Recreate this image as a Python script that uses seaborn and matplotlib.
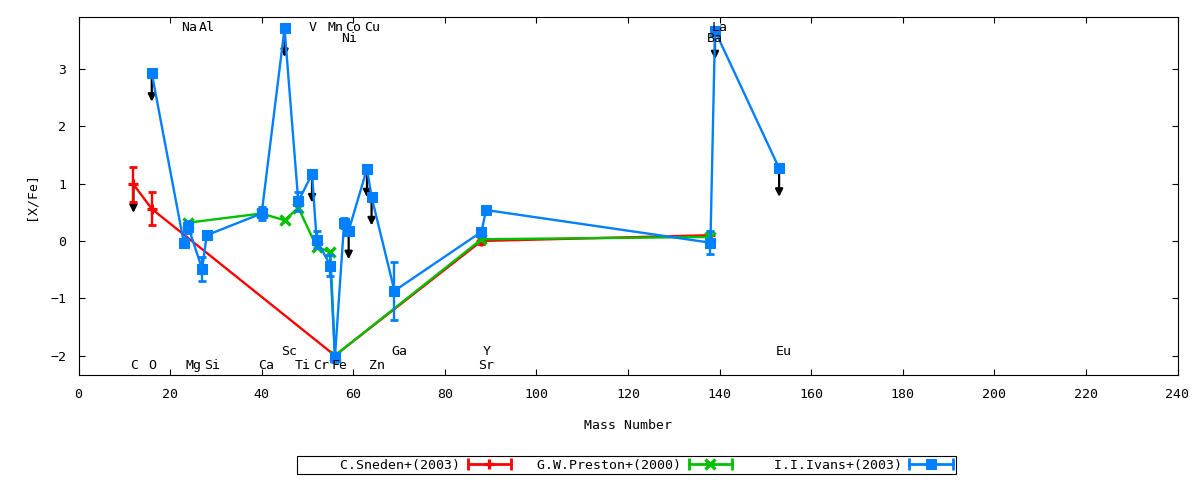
import matplotlib
matplotlib.use("Agg")
import matplotlib.pyplot as plt
import numpy as np
import pandas as pd
import seaborn as sns
from matplotlib.lines import Line2D
from matplotlib.legend_handler import HandlerLine2D, HandlerTuple

# ---------------- data ----------------
sneden_label = "C.Sneden+(2003)"
sneden_mass = [12, 16, 56, 88, 138]
sneden_val = [0.99, 0.56, -2.00, 0.00, 0.10]
sneden_err = [0.31, 0.29, 0.0, 0.06, 0.0]
sneden_ul = [True, False, False, False, False]

preston_label = "G.W.Preston+(2000)"
preston_mass = [24, 40, 45, 48, 52, 55, 56, 88, 138]
preston_val = [0.32, 0.48, 0.36, 0.58, -0.10, -0.20, -2.00, 0.03, 0.07]
preston_err = [0, 0, 0, 0, 0, 0, 0, 0, 0]
preston_ul = [False] * 9

ivans_label = "I.I.Ivans+(2003)"
ivans_mass = [16, 23, 24, 27, 28, 40, 45, 48, 51, 52, 55, 56, 58, 59, 63, 64,
              69, 88, 89, 138, 139, 153]
ivans_val = [2.93, -0.03, 0.24, -0.49, 0.10, 0.48, 3.71, 0.69, 1.17, 0.02,
             -0.43, -2.03, 0.31, 0.18, 1.26, 0.77, -0.87, 0.16, 0.54, -0.03,
             3.67, 1.27]
ivans_err = [0, 0, 0.10, 0.21, 0, 0.12, 0, 0.17, 0, 0.15, 0.18, 0.08, 0.09,
             0, 0, 0, 0.51, 0.05, 0, 0.20, 0, 0]
ivans_ul = [True, False, False, False, False, False, True, False, True, False,
            False, False, False, True, True, True, False, False, False, False,
            True, True]

elem_names = ["C", "O", "Na", "Mg", "Al", "Si", "Ca", "Sc", "Ti", "V", "Cr",
              "Mn", "Fe", "Co", "Ni", "Cu", "Zn", "Ga", "Sr", "Y", "Ba", "La",
              "Eu"]
elem_mass = [12, 16, 23, 24, 27, 28, 40, 45, 48, 51, 52, 55, 56, 59, 58, 63,
             64, 69, 88, 89, 138, 139, 153]
elem_row = [3, 3, 0, 3, 0, 3, 3, 2, 3, 0, 3, 0, 3, 0, 1, 0, 3, 2, 3, 2, 1, 0, 2]

x_ticks = list(range(0, 241, 20))
y_ticks = [-2, -1, 0, 1, 2, 3]
x_title = "Mass Number"
y_title = "[X/Fe]"

# ---------------- layout / style ----------------
RED, GREEN, BLUE = "#ff0000", "#00c000", "#0080ff"
FS = 9.5
LW = 1.7
ARROW_LEN = 0.5
ROW_Y = {0: 3.73, 1: 3.54, 2: -1.93, 3: -2.17}

sns.set_style("ticks")
plt.rcParams["font.family"] = ["DejaVu Sans Mono", "DejaVu Sans"]
plt.rcParams["axes.edgecolor"] = "black"
plt.rcParams["xtick.color"] = "black"
plt.rcParams["ytick.color"] = "black"
plt.rcParams["text.color"] = "black"
plt.rcParams["axes.labelcolor"] = "black"

fig = plt.figure(figsize=(12, 4.8), dpi=100)
ax = fig.add_axes([78.5 / 1200, 1 - 375 / 480, 1099 / 1200, 358 / 480])

series = [
    (sneden_label, sneden_mass, sneden_val, sneden_err, sneden_ul, RED,
     dict(marker="+", ms=7.5, mew=2.3), 2.0),
    (preston_label, preston_mass, preston_val, preston_err, preston_ul, GREEN,
     dict(marker="x", ms=6.5, mew=2.4), 2.1),
    (ivans_label, ivans_mass, ivans_val, ivans_err, ivans_ul, BLUE,
     dict(marker="s", ms=7, mew=0.8), 2.2),
]

handles, labels, hmap = [], [], {}
for label, m, v, e, ul, col, mk, z in series:
    df = pd.DataFrame({"mass": m, "val": v, "err": e, "ul": ul})
    # upper-limit arrows
    for _, r in df[df["ul"]].iterrows():
        ax.annotate("", xy=(r["mass"], r["val"] - ARROW_LEN),
                    xytext=(r["mass"], r["val"]),
                    arrowprops=dict(arrowstyle="-|>", color="black", lw=1.6,
                                    mutation_scale=11, shrinkA=0, shrinkB=0),
                    zorder=1.5)
    sns.lineplot(data=df, x="mass", y="val", sort=False, estimator=None,
                 color=col, lw=LW, mec=col, ax=ax, zorder=z, legend=False,
                 **mk)
    de = df[df["err"] > 0]
    if len(de):
        ax.errorbar(de["mass"], de["val"], yerr=de["err"], fmt="none",
                    ecolor=col, elinewidth=LW, capsize=3, capthick=LW + 0.3,
                    zorder=z)
    h_line = Line2D([], [], color=col, lw=LW + 0.3, mec=col, **mk)
    h_caps = Line2D([], [], color=col, lw=0, marker="|", ms=8, mew=LW + 0.3)
    hmap[h_caps] = HandlerLine2D(numpoints=2, marker_pad=0)
    hmap[h_line] = HandlerLine2D(numpoints=1)
    handles.append((h_line, h_caps))
    labels.append(label.rjust(20))

# element labels
for name, mass, row in zip(elem_names, elem_mass, elem_row):
    ax.annotate(name, xy=(mass, ROW_Y[row]), xytext=(-2.2, 0),
                textcoords="offset points", ha="left", va="center",
                fontsize=FS)

ax.set_xlim(0, 240)
ax.set_ylim(-2.34, 3.91)
ax.set_xticks(x_ticks)
ax.set_yticks(y_ticks)
ax.tick_params(direction="in", length=4, width=0.8, top=True, right=True,
               labelsize=FS, pad=9)
for s in ax.spines.values():
    s.set_linewidth(0.8)
    s.set_color("black")
ax.set_xlabel(x_title, fontsize=FS)
ax.set_ylabel(y_title, fontsize=FS)
ax.xaxis.set_label_coords(0.5, -0.122)
ax.yaxis.set_label_coords(-0.037, 0.5)

hmap[tuple] = HandlerTuple(ndivide=1)
leg = fig.legend(handles, labels, handler_map=hmap, loc="center left",
                 bbox_to_anchor=(297 / 1200, 1 - 465 / 480), ncol=3,
                 markerfirst=False, fontsize=FS, frameon=True, fancybox=False,
                 borderpad=0.2, handlelength=3.3, handletextpad=0.6,
                 columnspacing=0.72, borderaxespad=0)
leg.get_frame().set_edgecolor("black")
leg.get_frame().set_linewidth(0.8)
leg.get_frame().set_alpha(1)

fig.savefig("out.png", dpi=100)
